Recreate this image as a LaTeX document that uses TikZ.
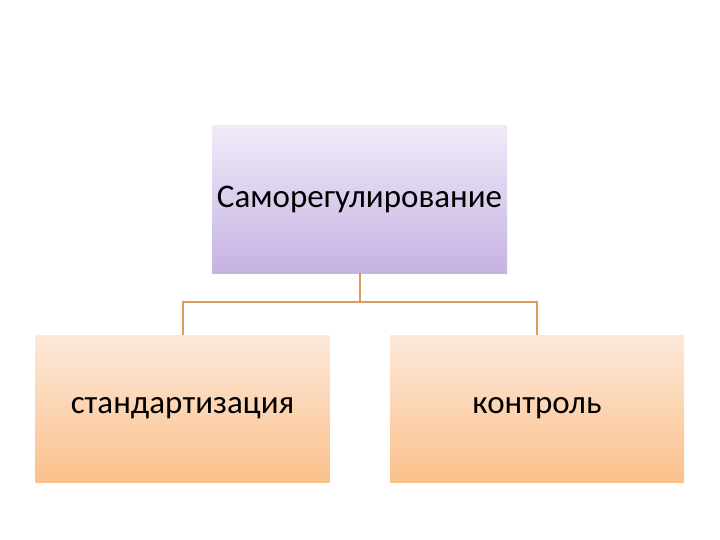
\documentclass[tikz,border=0pt]{standalone}
\usepackage{fontspec}
\setmainfont{Carlito}
\usetikzlibrary{calc}
\definecolor{lilactop}{HTML}{F0EAF9}
\definecolor{lilacbot}{HTML}{C5B3E3}
\definecolor{peachtop}{HTML}{FDE9DA}
\definecolor{peachbot}{HTML}{FBC08B}
\definecolor{linkline}{HTML}{DA9C5E}
\begin{document}
\begin{tikzpicture}[x=1pt,y=-1pt,
   topbox/.style={minimum width=295pt,minimum height=147pt,inner sep=0pt,
     top color=lilactop,bottom color=lilacbot,font=\fontsize{33}{40}\selectfont},
   subbox/.style={minimum width=294pt,minimum height=147pt,inner sep=0pt,
     top color=peachtop,bottom color=peachbot,font=\fontsize{33}{40}\selectfont},
   link/.style={draw=linkline,line width=2pt}]
   \useasboundingbox (0,0) rectangle (720,540);
   \node [topbox] (self) at (359.5,199.5) {Саморегулирование};
   \node [subbox] (std) at (182.5,408.5) {стандартизация};
   \node [subbox] (ctrl) at (537,408.5) {контроль};
   \coordinate (fork) at ($(self.south)+(0,29)$);
   \draw [link] (self.south)--(fork) -| (std.north);
   \draw [link] (fork) -| (ctrl.north);
 \end{tikzpicture}
\end{document}
